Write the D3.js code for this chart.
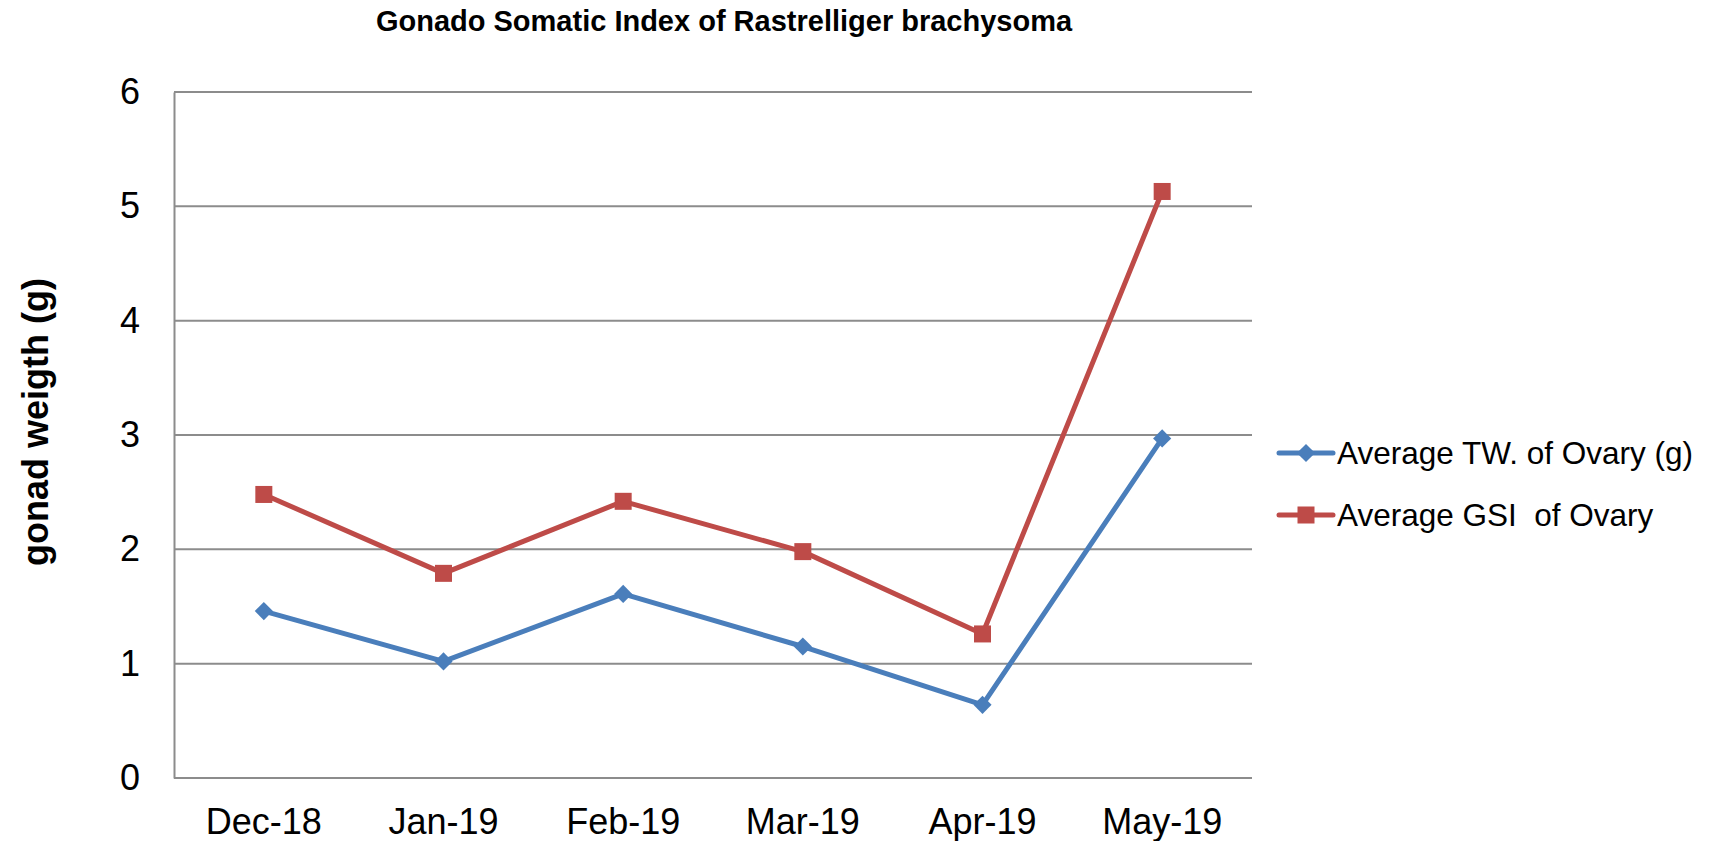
<!DOCTYPE html>
<html>
<head>
<meta charset="utf-8">
<script src="https://cdn.jsdelivr.net/npm/d3@7"></script>
<style>
  body { margin: 0; background: #fff; }
  svg { display: block; font-family: Arial, "Liberation Sans", sans-serif; }
</style>
</head>
<body>
<div id="chart"></div>
<script>
// values
let months = ["Dec-18", "Jan-19", "Feb-19", "Mar-19", "Apr-19", "May-19"];
let avgTW = [1.46, 1.02, 1.61, 1.15, 0.64, 2.97];
let avgGSI = [2.48, 1.79, 2.42, 1.98, 1.26, 5.13];
let yTicks = [0, 1, 2, 3, 4, 5, 6];
let seriesNames = ["Average TW. of Ovary (g)", "Average GSI  of Ovary"];
let seriesColors = ["#4a7ebb", "#be4b48"];

let width = 1719;
let height = 841;
let plot = {left: 174, right: 1252, top: 92, bottom: 778};

let svg = d3.select("#chart")
    .append("svg")
    .attr("width", width)
    .attr("height", height);

let x = d3.scaleBand()
    .domain(months)
    .range([plot.left, plot.right]);

let y = d3.scaleLinear()
    .domain([0, 6])
    .range([plot.bottom, plot.top]);

// gridlines
svg.append("g")
    .selectAll("line")
    .data(yTicks)
    .join("line")
        .attr("x1", plot.left)
        .attr("x2", plot.right)
        .attr("y1", d => y(d))
        .attr("y2", d => y(d))
        .attr("stroke", "#8c8c8c")
        .attr("stroke-width", 2);

// y axis
let yAxis = svg.append("g")
    .attr("transform", `translate(${plot.left},0)`)
    .call(d3.axisLeft(y).tickValues(yTicks).tickFormat(d3.format("d")).tickSize(0).tickPadding(34));
yAxis.select(".domain").attr("stroke", "#8c8c8c").attr("stroke-width", 2);
yAxis.selectAll("text")
    .attr("font-size", 36)
    .attr("font-family", "Arial, 'Liberation Sans', sans-serif")
    .attr("fill", "#000");

// x axis
let xAxis = svg.append("g")
    .attr("transform", `translate(0,${plot.bottom})`)
    .call(d3.axisBottom(x).tickSize(0).tickPadding(30));
xAxis.select(".domain").remove();
xAxis.selectAll("text")
    .attr("font-size", 36)
    .attr("font-family", "Arial, 'Liberation Sans', sans-serif")
    .attr("fill", "#000");

// title
svg.append("text")
    .attr("x", 724)
    .attr("y", 31)
    .attr("text-anchor", "middle")
    .attr("font-size", 29)
    .attr("font-weight", "bold")
    .text("Gonado Somatic Index of Rastrelliger brachysoma");

// y axis title
svg.append("text")
    .attr("transform", "translate(48,422) rotate(-90)")
    .attr("text-anchor", "middle")
    .attr("font-size", 36)
    .attr("font-weight", "bold")
    .text("gonad weigth (g)");

let line = d3.line()
    .x((d, i) => x(months[i]) + x.bandwidth() / 2)
    .y(d => y(d));

let series = [avgTW, avgGSI];
let diamond = d3.symbol().type(d3.symbolDiamond2).size(210);

series.forEach((vals, s) => {
    let g = svg.append("g");
    g.append("path")
        .datum(vals)
        .attr("fill", "none")
        .attr("stroke", seriesColors[s])
        .attr("stroke-width", 5)
        .attr("stroke-linejoin", "round")
        .attr("d", line);
    let pts = g.selectAll(".pt")
        .data(vals)
        .join("g")
        .attr("class", "pt")
        .attr("transform", (d, i) => `translate(${x(months[i]) + x.bandwidth() / 2},${y(d)})`);
    if (s == 0) {
        pts.append("path").attr("d", diamond).attr("fill", seriesColors[s]);
    } else {
        pts.append("rect")
            .attr("x", -8.5).attr("y", -8.5)
            .attr("width", 17).attr("height", 17)
            .attr("fill", seriesColors[s]);
    }
});

// legend
let legend = svg.append("g");
let legendY = [453, 515];
seriesNames.forEach((name, s) => {
    let g = legend.append("g").attr("transform", `translate(0,${legendY[s]})`);
    g.append("line")
        .attr("x1", 1279).attr("x2", 1333)
        .attr("stroke", seriesColors[s])
        .attr("stroke-width", 5)
        .attr("stroke-linecap", "round");
    if (s == 0) {
        g.append("path").attr("transform", "translate(1306,0)").attr("d", diamond).attr("fill", seriesColors[s]);
    } else {
        g.append("rect").attr("x", 1297.5).attr("y", -8.5).attr("width", 17).attr("height", 17).attr("fill", seriesColors[s]);
    }
    g.append("text")
        .attr("x", 1337)
        .attr("y", 11)
        .attr("font-size", 31.5)
        .style("white-space", "pre")
        .text(name);
});
</script>
</body>
</html>
